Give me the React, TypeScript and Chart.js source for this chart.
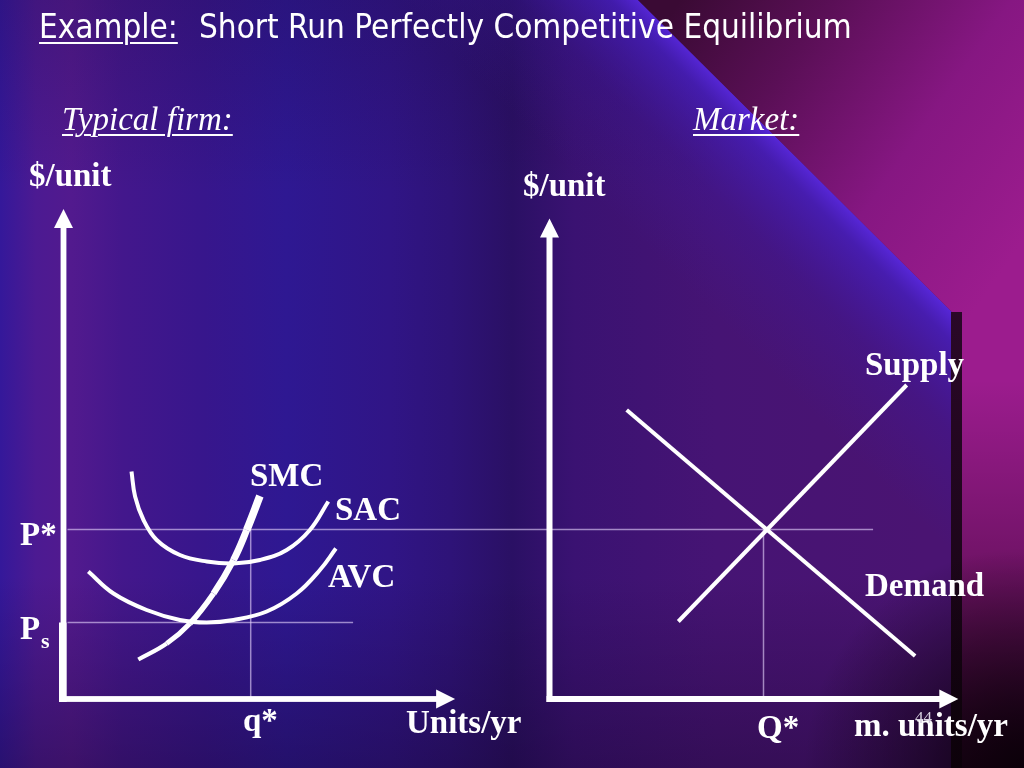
import React, { useEffect, useRef } from "react";
import { Chart, registerables } from "chart.js";

Chart.register(...registerables);

// ---------- Typical firm (q = units/yr, p = $/unit) ----------
const SAC_Q = [1.7, 1.79, 2.0, 2.33, 2.91, 3.58, 4.25, 4.91, 5.58, 6.16, 6.62];
const SAC_P = [4.55, 4.05, 3.58, 3.18, 2.88, 2.75, 2.71, 2.78, 2.98, 3.38, 3.95];
const AVC_Q = [0.62, 1.25, 2.08, 2.91, 3.58, 4.25, 5.08, 5.83, 6.41, 6.81];
const AVC_P = [2.55, 2.11, 1.78, 1.58, 1.53, 1.58, 1.75, 2.11, 2.58, 3.01];
const SMC_Q = [1.87, 2.58, 3.16, 3.75, 4.25, 4.58, 4.91];
const SMC_P = [0.79, 1.11, 1.51, 2.11, 2.78, 3.38, 4.06];

// ---------- Market (Q = m. units/yr, P = $/unit) ----------
const SUPPLY_Q = [3.22, 8.93];
const SUPPLY_P = [1.55, 6.28];
const DEMAND_Q = [1.93, 9.14];
const DEMAND_P = [5.78, 0.86];

// ---------- Equilibrium values ----------
const P_STAR = 3.39;
const P_S = 1.53;
const Q_FIRM_STAR = 4.68;
const Q_MARKET_STAR = 5.35;
const P_STAR_LINE_Q = [-12.05, 8.09]; // on market axis, spans both graphs
const PS_LINE_Q = [0.1, 7.24]; // on firm axis

// axis extents (data units)
const FIRM_AXIS = { xMax: 9.79, yMax: 9.8 };
const MARKET_AXIS = { xMax: 10.22, yMax: 9.61 };

const pts = (xs: number[], ys: number[]) => xs.map((x, i) => ({ x, y: ys[i] }));

const bgPlugin = {
  id: "slideBg",
  beforeDraw(chart: any) {
    const { ctx, width: W, height: H } = chart;
    ctx.save();
    let g = ctx.createLinearGradient(0, 0, W, 0);
    g.addColorStop(0, "#34189a");
    g.addColorStop(0.035, "#4c1a92");
    g.addColorStop(0.07, "#521a8e");
    g.addColorStop(0.12, "#43178c");
    g.addColorStop(0.2, "#37168c");
    g.addColorStop(0.28, "#2e1892");
    g.addColorStop(0.38, "#301586");
    g.addColorStop(0.44, "#2e1378");
    g.addColorStop(0.5, "#2a1064");
    g.addColorStop(0.56, "#3a1272");
    g.addColorStop(0.7, "#461474");
    g.addColorStop(0.9, "#4a1472");
    g.addColorStop(1, "#4a1472");
    ctx.fillStyle = g;
    ctx.fillRect(0, 0, W, H);

    // top / bottom darkening
    g = ctx.createLinearGradient(0, 0, 0, H);
    g.addColorStop(0, "rgba(25,5,50,0.2)");
    g.addColorStop(0.25, "rgba(25,5,50,0)");
    g.addColorStop(0.75, "rgba(20,0,30,0)");
    g.addColorStop(1, "rgba(15,0,25,0.32)");
    ctx.fillStyle = g;
    ctx.fillRect(0, 0, W, H);

    // blue glow along the diagonal edge
    ctx.save();
    ctx.beginPath();
    ctx.moveTo(0, 0);
    ctx.lineTo(638, 0);
    ctx.lineTo(952, 312);
    ctx.lineTo(952, H);
    ctx.lineTo(0, H);
    ctx.closePath();
    ctx.clip();
    g = ctx.createLinearGradient(795, 156, 795 - 170 * 0.7071, 156 + 170 * 0.7071);
    g.addColorStop(0, "rgba(88,40,225,0.9)");
    g.addColorStop(0.12, "rgba(70,32,200,0.7)");
    g.addColorStop(0.5, "rgba(60,25,170,0.3)");
    g.addColorStop(1, "rgba(60,25,160,0)");
    ctx.fillStyle = g;
    ctx.fillRect(0, 0, W, H);
    ctx.restore();

    // magenta region
    ctx.save();
    ctx.beginPath();
    ctx.moveTo(638, 0);
    ctx.lineTo(W, 0);
    ctx.lineTo(W, H);
    ctx.lineTo(952, H);
    ctx.lineTo(952, 312);
    ctx.closePath();
    ctx.clip();
    g = ctx.createLinearGradient(680, 0, 1024, 240);
    g.addColorStop(0, "#3a0a34");
    g.addColorStop(0.3, "#5a0f56");
    g.addColorStop(0.65, "#861782");
    g.addColorStop(1, "#9c1c8e");
    ctx.fillStyle = g;
    ctx.fillRect(0, 0, W, H);
    g = ctx.createLinearGradient(0, 380, 0, H);
    g.addColorStop(0, "rgba(20,0,20,0)");
    g.addColorStop(0.45, "rgba(20,0,20,0.3)");
    g.addColorStop(1, "rgba(15,0,12,0.85)");
    ctx.fillStyle = g;
    ctx.fillRect(0, 380, W, H - 380);
    ctx.restore();

    // dark vertical bar
    g = ctx.createLinearGradient(0, 312, 0, H);
    g.addColorStop(0, "#2a0828");
    g.addColorStop(1, "#12040f");
    ctx.fillStyle = g;
    ctx.fillRect(951, 312, 11, H - 312);

    // dark bottom-right corner
    const r = ctx.createRadialGradient(W, H, 0, W, H, 220);
    r.addColorStop(0, "rgba(10,0,8,0.95)");
    r.addColorStop(0.5, "rgba(10,0,8,0.45)");
    r.addColorStop(1, "rgba(10,0,8,0)");
    ctx.fillStyle = r;
    ctx.fillRect(0, 0, W, H);
    ctx.restore();
  },
};

function drawAxes(ctx: any, xs: any, ys: any, a: { xMax: number; yMax: number }, lw: number) {
  const x0 = xs.getPixelForValue(0);
  const y0 = ys.getPixelForValue(0);
  const xt = xs.getPixelForValue(a.xMax);
  const yt = ys.getPixelForValue(a.yMax);
  const ah = 19;
  const aw = 9.5;
  ctx.fillStyle = "#ffffff";
  ctx.fillRect(x0 - lw / 2, yt + ah - 1, lw, y0 - (yt + ah - 1) + lw / 2);
  ctx.beginPath();
  ctx.moveTo(x0, yt);
  ctx.lineTo(x0 + aw, yt + ah);
  ctx.lineTo(x0 - aw, yt + ah);
  ctx.closePath();
  ctx.fill();
  ctx.fillRect(x0 - lw / 2, y0 - lw / 2, xt - ah + 1 - (x0 - lw / 2), lw);
  ctx.beginPath();
  ctx.moveTo(xt, y0);
  ctx.lineTo(xt - ah, y0 - aw);
  ctx.lineTo(xt - ah, y0 + aw);
  ctx.closePath();
  ctx.fill();
}

const axesPlugin = {
  id: "arrowAxes",
  afterDatasetsDraw(chart: any) {
    const { ctx, scales } = chart;
    ctx.save();
    drawAxes(ctx, scales.xFirm, scales.y, FIRM_AXIS, 5.8);
    // thicker lower part of the firm's vertical axis (below Ps)
    const x0 = scales.xFirm.getPixelForValue(0);
    const yPs = scales.y.getPixelForValue(P_S);
    const y0 = scales.y.getPixelForValue(0);
    ctx.fillRect(x0 - 4.5, yPs, 7.5, y0 - yPs + 3);
    drawAxes(ctx, scales.xMarket, scales.y, MARKET_AXIS, 6);
    ctx.restore();
  },
};

const GUIDE = "rgba(228,210,250,0.62)";

export default function App() {
  const ref = useRef<HTMLCanvasElement>(null);

  useEffect(() => {
    document.body.style.margin = "0";
    const curve = {
      showLine: true,
      borderColor: "#ffffff",
      pointRadius: 0,
      pointHoverRadius: 0,
      tension: 0.4,
      xAxisID: "xFirm",
      yAxisID: "y",
      order: 1,
    };
    const guide = {
      showLine: true,
      borderColor: GUIDE,
      borderWidth: 1.5,
      pointRadius: 0,
      yAxisID: "y",
      order: 5,
    };
    const chart = new Chart(ref.current as HTMLCanvasElement, {
      type: "scatter",
      data: {
        datasets: [
          { ...curve, label: "SAC", data: pts(SAC_Q, SAC_P), borderWidth: 4 },
          { ...curve, label: "AVC", data: pts(AVC_Q, AVC_P), borderWidth: 4 },
          {
            ...curve,
            label: "SMC",
            data: pts(SMC_Q, SMC_P),
            borderWidth: 6,
            segment: { borderWidth: (c: any) => 4.2 + c.p0DataIndex * 0.7 },
          },
          { ...curve, label: "Supply", data: pts(SUPPLY_Q, SUPPLY_P), xAxisID: "xMarket", borderWidth: 4, tension: 0 },
          { ...curve, label: "Demand", data: pts(DEMAND_Q, DEMAND_P), xAxisID: "xMarket", borderWidth: 4, tension: 0 },
          { ...guide, label: "P*", xAxisID: "xMarket", data: pts(P_STAR_LINE_Q, [P_STAR, P_STAR]) },
          { ...guide, label: "Ps", xAxisID: "xFirm", data: pts(PS_LINE_Q, [P_S, P_S]) },
          { ...guide, label: "q*", xAxisID: "xFirm", data: pts([Q_FIRM_STAR, Q_FIRM_STAR], [0, P_STAR]) },
          { ...guide, label: "Q*", xAxisID: "xMarket", data: pts([Q_MARKET_STAR, Q_MARKET_STAR], [0, P_STAR]) },
        ] as any,
      },
      options: {
        animation: false,
        responsive: false,
        events: [],
        layout: { padding: 0 },
        plugins: { legend: { display: false }, tooltip: { enabled: false }, title: { display: false } },
        scales: {
          xFirm: { type: "linear", position: "bottom", display: false, min: -63.5 / 40, max: (1024 - 63.5) / 40 },
          xMarket: { type: "linear", position: "bottom", display: false, min: -549.5 / 40, max: (1024 - 549.5) / 40 },
          y: { type: "linear", display: false, min: -(768 - 699) / 50, max: 699 / 50 },
        },
      },
      plugins: [bgPlugin, axesPlugin],
    });
    return () => chart.destroy();
  }, []);

  const serif = '"Liberation Serif", "Times New Roman", serif';
  const sans = '"DejaVu Sans Condensed", "DejaVu Sans", sans-serif';
  const T = (p: {
    x: number;
    base: number;
    size?: number;
    bold?: boolean;
    italic?: boolean;
    underline?: boolean;
    family?: string;
    k?: number;
    color?: string;
    children: React.ReactNode;
  }) => {
    const size = p.size ?? 33;
    const k = p.k ?? 0.8375;
    return (
      <div
        style={{
          position: "absolute",
          left: p.x,
          top: p.base - k * size,
          fontFamily: p.family ?? serif,
          fontSize: size,
          lineHeight: `${size}px`,
          fontWeight: p.bold === false ? 400 : 700,
          fontStyle: p.italic ? "italic" : "normal",
          textDecoration: p.underline ? "underline" : "none",
          textDecorationThickness: p.underline ? 2 : undefined,
          textUnderlineOffset: p.underline ? 4 : undefined,
          color: p.color ?? "#ffffff",
          whiteSpace: "nowrap",
        }}
      >
        {p.children}
      </div>
    );
  };

  return (
    <div style={{ position: "fixed", left: 0, top: 0, width: 1024, height: 768, overflow: "hidden" }}>
      <canvas ref={ref} width={1024} height={768} style={{ position: "absolute", left: 0, top: 0, width: 1024, height: 768 }} />
      <T x={39} base={38} size={33} bold={false} family={sans} k={0.846} underline>Example:</T>
      <T x={199} base={38} size={33} bold={false} family={sans} k={0.846}>Short Run Perfectly Competitive Equilibrium</T>
      <T x={62} base={131} bold={false} italic underline>Typical firm:</T>
      <T x={693} base={131} bold={false} italic underline>Market:</T>
      <T x={29} base={187}>$/unit</T>
      <T x={523} base={197}>$/unit</T>
      <T x={250} base={487}>SMC</T>
      <T x={335} base={521}>SAC</T>
      <T x={328} base={588}>AVC</T>
      <T x={20} base={546}>P*</T>
      <T x={20} base={640}>P</T>
      <T x={41} base={648} size={22}>s</T>
      <T x={243} base={732}>q*</T>
      <T x={406} base={734}>Units/yr</T>
      <T x={865} base={376}>Supply</T>
      <T x={865} base={597}>Demand</T>
      <T x={757} base={739}>Q*</T>
      <T x={854} base={737}>m. units/yr</T>
      <T x={915} base={723} size={17} bold={false} color="#d8d0e0">44</T>
    </div>
  );
}
